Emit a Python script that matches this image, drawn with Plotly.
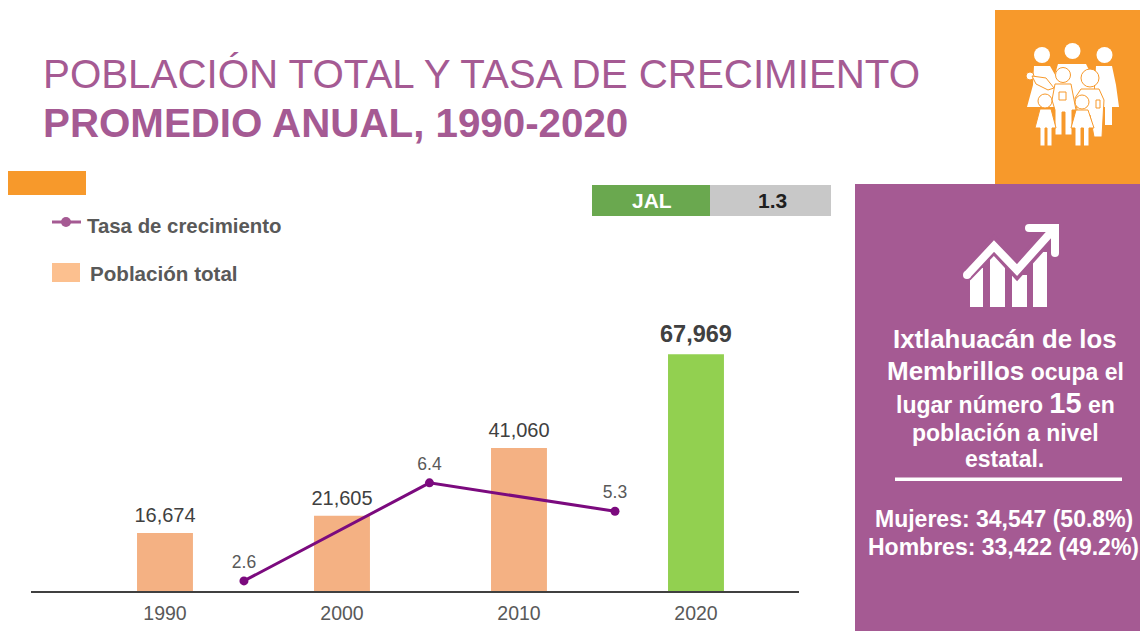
import plotly.graph_objects as go

# ---- data ----
years = ["1990", "2000", "2010", "2020"]
population = [16674, 21605, 41060, 67969]
periods = ["1990-2000", "2000-2010", "2010-2020"]
growth = [2.6, 6.4, 5.3]
state_code = "JAL"
state_growth = "1.3"
title_line1 = "POBLACIÓN TOTAL Y TASA DE CRECIMIENTO"
title_line2 = "PROMEDIO ANUAL, 1990-2020"
line_name = "Tasa de crecimiento"
bar_name = "Población total"

W, H = 1140, 631
ORANGE = "#F7992B"
PURPLE = "#A55A93"
LINE = "#7B0A7E"
BAR = "#F4B183"
GREEN = "#92D050"


def px(x):
    return x / W


def py(y):
    return 1 - y / H


def rect(x0, y0, x1, y1, color, outline=None):
    return dict(type="rect", xref="paper", yref="paper", x0=px(x0), x1=px(x1),
                y0=py(y0), y1=py(y1), fillcolor=color,
                line=dict(width=1 if outline else 0, color=outline or color))


def circle(cx, cy, r, color="white", outline=None, w=1):
    return dict(type="circle", xref="paper", yref="paper", x0=px(cx - r), x1=px(cx + r),
                y0=py(cy - r), y1=py(cy + r), fillcolor=color,
                line=dict(width=w if outline else 0, color=outline or color))


def poly(pts, fill="white", outline=None, w=1, close=True):
    d = "M" + " L".join(f"{px(x):.5f},{py(y):.5f}" for x, y in pts) + (" Z" if close else "")
    s = dict(type="path", xref="paper", yref="paper", path=d,
             line=dict(width=w if outline else 0, color=outline or fill))
    if close:
        s["fillcolor"] = fill
    return s


def text(x, y, s, size, color, anchor="center", bold=False):
    return dict(xref="paper", yref="paper", x=px(x), y=py(y), text=f"<b>{s}</b>" if bold else s,
                showarrow=False, xanchor=anchor, yanchor="middle",
                font=dict(family="Liberation Sans", size=size, color=color))


fig = go.Figure()
fig.add_trace(go.Bar(
    x=years, y=population, width=0.316, xaxis="x", yaxis="y",
    marker=dict(color=[BAR, BAR, BAR, GREEN], line=dict(width=0)),
    name=bar_name, showlegend=False,
))
# bar labels (the invisible marker sets their distance from the bar top)
fig.add_trace(go.Scatter(
    x=years, y=population, xaxis="x", yaxis="y", mode="markers+text",
    marker=dict(size=8, opacity=0), cliponaxis=False,
    text=[f"{v:,}" if v != max(population) else f"<b>{v:,}</b>" for v in population],
    textposition="top center",
    textfont=dict(family="Liberation Sans", size=[20, 20, 20, 23.5], color="#404040"),
    showlegend=False, hoverinfo="skip",
))
fig.add_trace(go.Scatter(
    x=periods, y=growth, xaxis="x2", yaxis="y2", mode="lines+markers",
    line=dict(color=LINE, width=3), marker=dict(color=LINE, size=9),
    name=line_name, showlegend=False,
))
# same values again, carrying only the labels (the invisible marker sets their distance)
fig.add_trace(go.Scatter(
    x=periods, y=growth, xaxis="x2", yaxis="y2", mode="markers+text",
    marker=dict(size=12, opacity=0),
    text=[f"{v:.1f}" for v in growth], textposition="top center", cliponaxis=False,
    textfont=dict(family="Liberation Sans", size=17.5, color="#595959"),
    showlegend=False, hoverinfo="skip",
))

shapes = [
    rect(995, 10, 1140, 184, ORANGE),
    rect(855, 184, 1140, 631, PURPLE),
    rect(8, 171, 86, 195, ORANGE),
    rect(592, 185, 710, 216, "#6AA84F"),
    rect(710, 185, 831, 216, "#C8C8C8"),
    rect(52, 263, 80, 282, "#FCC08F"),
    rect(895, 477.5, 1122, 481, "white"),
    # legend line sample
    poly([(52, 222), (81, 222)], fill=PURPLE, outline=PURPLE, w=3, close=False),
    circle(66, 222, 5, PURPLE),
    # family icon: back adults
    circle(1042, 55, 8), circle(1072.5, 51, 8), circle(1104.5, 55, 8),
    poly([(1034, 66), (1050, 66), (1058, 80), (1060, 107), (1027, 107), (1033, 85)]),
    poly([(1058, 64), (1086, 64), (1094, 80), (1094, 110), (1056, 110), (1054, 78)]),
    poly([(1096, 66), (1112, 66), (1116, 85), (1119, 107), (1112, 107), (1112, 125),
          (1105, 125), (1105, 107), (1094, 107)]),
    # baby on the left arm
    circle(1030, 76, 4, "white", ORANGE),
    poly([(1032, 76), (1046, 78), (1054, 88), (1048, 90), (1036, 84)], "white", ORANGE),
    # middle figure with tablet
    circle(1063, 75, 7.5, "white", ORANGE),
    poly([(1055, 84), (1071, 84), (1076, 110), (1072, 110), (1072, 135), (1065, 135), (1065, 112),
          (1062, 112), (1062, 135), (1055, 135), (1055, 110), (1052, 100)], "white", ORANGE),
    rect(1059, 92, 1066, 100, "white", ORANGE),
    # woman with headphones
    circle(1090, 78, 9, "white", ORANGE),
    poly([(1081, 89), (1099, 89), (1104, 100), (1102, 137), (1094, 137), (1090, 115), (1078, 115),
          (1075, 98)], "white", ORANGE),
    rect(1096, 100, 1100, 108, "white", ORANGE),
    # front children
    circle(1045, 101, 7, "white", ORANGE),
    poly([(1040, 109), (1051, 109), (1056, 128), (1052, 128), (1052, 146), (1047, 146), (1047, 128),
          (1045, 128), (1045, 146), (1040, 146), (1040, 128), (1035, 128)], "white", ORANGE),
    circle(1082, 102, 7, "white", ORANGE),
    poly([(1076, 110), (1088, 110), (1094, 128), (1089, 128), (1089, 146), (1083.5, 146), (1083.5, 128),
          (1081, 128), (1081, 146), (1075, 146), (1075, 128), (1071, 128)], "white", ORANGE),
    # growth icon: bars, cut by the purple halo of the arrow
    rect(970, 268, 983, 307, "white"),
    rect(990, 255, 1005, 307, "white"),
    rect(1012, 275, 1027, 307, "white"),
    rect(1033, 252, 1047, 307, "white"),
    poly([(965, 275), (994, 245), (1017, 270), (1053, 230)], fill=PURPLE, outline=PURPLE, w=15, close=False),
    poly([(967, 275), (994, 246), (1017, 270), (1053, 230)], fill="white", outline="white", w=8, close=False),
    poly([(1029, 228), (1055, 228), (1055, 253)], fill="white", outline="white", w=8, close=False),
    circle(967, 275, 4), circle(1029, 228, 4), circle(1055, 253, 4), circle(1055, 228, 4),
]

annotations = [
    text(41, 75, title_line1, 40.3, PURPLE, "left"),
    text(41, 123, title_line2, 40.3, PURPLE, "left", True),
    text(652, 200, state_code, 21, "white", bold=True),
    text(772, 200, state_growth, 21, "#1f1f1f", bold=True),
    text(85, 226, line_name, 20.4, "#595959", "left", True),
    text(88, 273, bar_name, 20.6, "#595959", "left", True),
    text(1005, 339, "Ixtlahuacán de los", 25.8, "white", bold=True),
    text(1005.5, 371, "<span style='font-size:26px'>Membrillos</span> ocupa el", 23, "white", bold=True),
    text(1005, 403, "lugar número <span style='font-size:29px'>15</span> en", 23, "white", bold=True),
    text(1005, 433, "población a nivel", 23, "white", bold=True),
    text(1004.5, 459, "estatal.", 23, "white", bold=True),
    text(1003.5, 519, "Mujeres: 34,547 (50.8%)", 23, "white", bold=True),
    text(1003.5, 547, "Hombres: 33,422 (49.2%)", 23, "white", bold=True),
]

dom_x = [px(31), px(799)]
dom_y = [py(591), py(320)]
fig.update_layout(
    width=W, height=H, margin=dict(l=0, r=0, t=0, b=0),
    paper_bgcolor="white", plot_bgcolor="white", showlegend=False,
    xaxis=dict(domain=dom_x, type="category", range=[-0.757, 3.582], showgrid=False,
               ticks="", tickfont=dict(family="Liberation Sans", size=19.5, color="#595959"),
               showline=True, linecolor="#404040", linewidth=2, anchor="y", ticklabelstandoff=4),
    yaxis=dict(domain=dom_y, range=[0, 77800], visible=False),
    xaxis2=dict(domain=dom_x, type="category", range=[-1.148, 2.992], overlaying="x", visible=False,
                anchor="y2"),
    yaxis2=dict(domain=dom_y, range=[2.21, 12.71], overlaying="y", visible=False, anchor="x2"),
    shapes=shapes, annotations=annotations,
)
fig.write_html("out.html", config=dict(displayModeBar=False),
               post_script="document.body.style.margin='0';document.body.style.overflow='hidden';")
